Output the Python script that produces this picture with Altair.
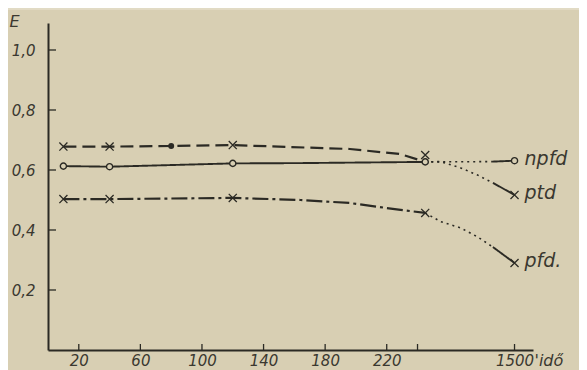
import altair as alt
import pandas as pd

# ---- axis break: hours up to 250 are linear, 1500 is drawn after the break
BREAK_AT = 250
BREAK_POS = 303


def axis_pos(v):
    return v if v <= BREAK_AT else BREAK_POS


# ---- measured points (hours, E)
hours = [10, 40, 120, 245, 1500]
e_npfd = [0.613, 0.611, 0.622, 0.627, 0.631]
e_ptd = [0.678, 0.678, 0.683, 0.650, 0.517]
e_pfd = [0.503, 0.503, 0.507, 0.457, 0.290]
ptd_dot_hour = [80]
ptd_dot_e = [0.680]

# ---- drawn curves, traced along the axis (axis-position units)
npfd_main_x = [10, 40, 120, 164, 245]
npfd_main_y = [0.613, 0.611, 0.622, 0.623, 0.627]
npfd_dot_x = [245, 289]
npfd_dot_y = [0.627, 0.628]
npfd_end_x = [289, 303]
npfd_end_y = [0.628, 0.631]

ptd_main_x = [10, 40, 80, 120, 196, 229, 245]
ptd_main_y = [0.678, 0.678, 0.680, 0.683, 0.670, 0.653, 0.627]
ptd_dot_x = [245, 255, 268, 279, 289]
ptd_dot_y = [0.627, 0.628, 0.607, 0.583, 0.557]
ptd_end_x = [289, 303]
ptd_end_y = [0.557, 0.517]

pfd_main_x = [10, 40, 120, 164, 196, 229, 245]
pfd_main_y = [0.503, 0.503, 0.507, 0.500, 0.490, 0.467, 0.457]
pfd_dot_x = [245, 255, 268, 279, 289]
pfd_dot_y = [0.457, 0.428, 0.407, 0.377, 0.343]
pfd_end_x = [289, 303]
pfd_end_y = [0.343, 0.290]

# ---- axis ticks / labels
x_ticks = [20, 60, 100, 140, 180, 220, 240, 1500]
y_ticks = [0.2, 0.4, 0.6, 0.8, 1.0]
series_labels = ["npfd", "ptd", "pfd."]

INK = "#2b2a24"
PAPER = "#d8cfb3"
FONT = "DejaVu Sans"

# ---- build tables
rows = []
def add(seg, style, xs, ys):
    for x, y in zip(xs, ys):
        rows.append({"seg": seg, "style": style, "pos": x, "E": y})

add("npfd-main", "solid", npfd_main_x, npfd_main_y)
add("npfd-dot", "dotted", npfd_dot_x, npfd_dot_y)
add("npfd-end", "solid", npfd_end_x, npfd_end_y)
add("ptd-main", "dashed", ptd_main_x, ptd_main_y)
add("ptd-dot", "dotted", ptd_dot_x, ptd_dot_y)
add("ptd-end", "solid", ptd_end_x, ptd_end_y)
add("pfd-main", "dashdot", pfd_main_x, pfd_main_y)
add("pfd-dot", "dotted", pfd_dot_x, pfd_dot_y)
add("pfd-end", "solid", pfd_end_x, pfd_end_y)
curves = pd.DataFrame(rows)

circles = pd.DataFrame({"pos": [axis_pos(h) for h in hours], "E": e_npfd})
crosses = pd.DataFrame({
    "pos": [axis_pos(h) for h in hours] * 2,
    "E": e_ptd + e_pfd,
})
dots = pd.DataFrame({"pos": [axis_pos(h) for h in ptd_dot_hour], "E": ptd_dot_e})
labels = pd.DataFrame({
    "pos": [axis_pos(1500)] * 3,
    "E": [e_npfd[-1], e_ptd[-1], e_pfd[-1]],
    "label": series_labels,
})
xt = pd.DataFrame({"pos": [axis_pos(v) for v in x_ticks]})
yt = pd.DataFrame({"E": y_ticks})

W, H = 485, 327
x_axis_vals = [axis_pos(v) for v in x_ticks]
label_expr = (
    f"datum.value == {BREAK_POS} ? '1500' : (datum.value == 240 ? '' : datum.label)"
)

X = alt.X(
    "pos:Q",
    scale=alt.Scale(domain=[0, 315], nice=False, zero=False),
    axis=alt.Axis(
        values=x_axis_vals, labelExpr=label_expr, ticks=False, grid=False,
        domainColor=INK, domainWidth=2, labelColor="#3a3830", labelFont=FONT,
        labelFontSize=15, labelFontStyle="italic", labelPadding=3,
        title="'idő", titleFont=FONT, titleFontSize=16, titleFontStyle="italic",
        titleFontWeight="normal", titleColor="#3a3830", titleX=486, titleY=15,
        titleAlign="left", titleBaseline="alphabetic",
    ),
)
Y = alt.Y(
    "E:Q",
    scale=alt.Scale(domain=[0, 1.09], nice=False, zero=False),
    axis=alt.Axis(
        values=y_ticks, labelExpr="replace(format(datum.value, '.1f'), '.', ',')",
        ticks=False, grid=False, domainColor=INK, domainWidth=2,
        labelColor="#3a3830", labelFont=FONT, labelFontSize=15,
        labelFontStyle="italic", labelPadding=13,
        title="E", titleFont=FONT, titleFontSize=16, titleFontWeight="normal",
        titleFontStyle="italic",
        titleColor="#3a3830", titleAngle=0, titleX=-39, titleY=3,
        titleAlign="left", titleBaseline="alphabetic",
    ),
)

base = alt.Chart(curves)

def line_layer(style, dash, width):
    return base.transform_filter(alt.datum.style == style).mark_line(
        color=INK, strokeDash=dash, strokeWidth=width
    ).encode(x=X, y=Y, detail="seg:N", order="pos:Q")

solid = line_layer("solid", [1, 0], 1.9)
dashed = line_layer("dashed", [13, 6], 2.2)
dashdot = line_layer("dashdot", [16, 4, 3, 4], 2.2)
dotted = line_layer("dotted", [2, 4], 1.6)

circle_layer = alt.Chart(circles).mark_point(
    shape="circle", size=38, filled=True, fill=PAPER, stroke=INK, strokeWidth=1.4, opacity=1
).encode(x="pos:Q", y="E:Q")

cross_layer = alt.Chart(crosses).mark_point(
    shape="M-1,-1L1,1M1,-1L-1,1", size=65, filled=False, stroke=INK, strokeWidth=1.3, opacity=1
).encode(x="pos:Q", y="E:Q")

dot_layer = alt.Chart(dots).mark_point(
    shape="circle", size=36, filled=True, color=INK, opacity=1
).encode(x="pos:Q", y="E:Q")

text_layer = alt.Chart(labels).mark_text(
    align="left", baseline="middle", dx=10, dy=-2, font=FONT, fontSize=19,
    fontStyle="italic", color="#3a3830",
).encode(x="pos:Q", y="E:Q", text="label:N")

xtick_layer = alt.Chart(xt).mark_rule(color=INK, strokeWidth=1.3).encode(
    x="pos:Q", y=alt.value(H), y2=alt.value(H - 6)
)
ytick_layer = alt.Chart(yt).mark_rule(color=INK, strokeWidth=1.3).encode(
    y="E:Q", x=alt.value(0), x2=alt.value(8)
)
edge_layer = alt.Chart(yt).mark_rule(color="#ebe6d6", strokeWidth=1).encode(
    y=alt.value(-14), x=alt.value(-40), x2=alt.value(532)
).transform_filter(alt.datum.E == 1.0)

chart = alt.layer(
    edge_layer, xtick_layer, ytick_layer, solid, dashed, dashdot, dotted,
    circle_layer, cross_layer, dot_layer, text_layer,
).properties(
    width=W, height=H,
    autosize=alt.AutoSizeParams(type="none"),
    padding={"left": 40, "top": 15, "right": 46, "bottom": 30},
    background=PAPER,
).configure_view(stroke=None)

chart.save("out.html", embed_options={"renderer": "svg", "actions": False})
